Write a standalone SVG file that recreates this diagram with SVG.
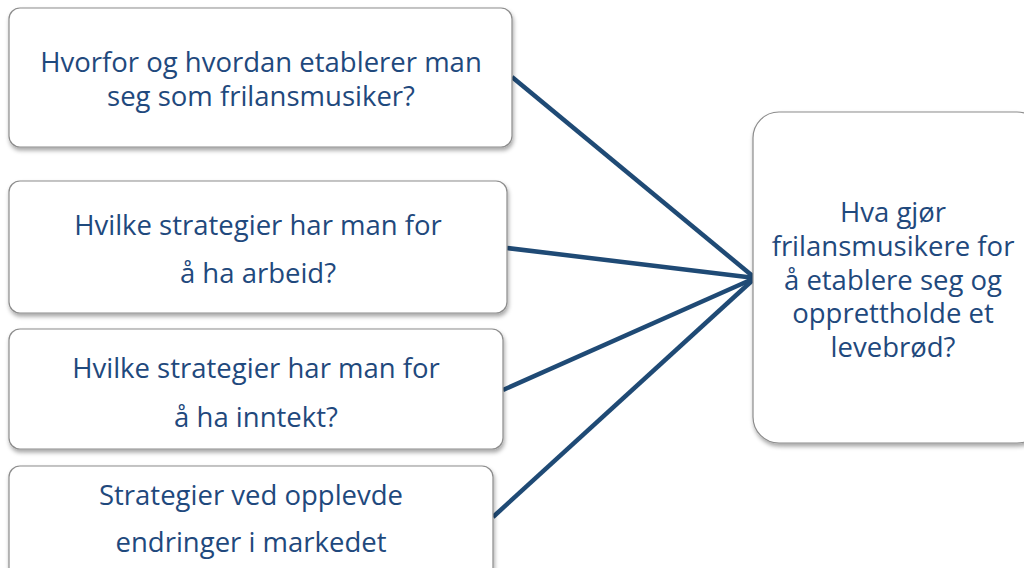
<svg xmlns="http://www.w3.org/2000/svg" width="1024" height="568" viewBox="0 0 1024 568">
<style>
.box{fill:#fff;stroke:#8c8c8c;stroke-width:1.2;filter:url(#sh)}
.t{font-family:"Open Sans","Liberation Sans",sans-serif;font-size:27.5px;fill:#1F497D;text-anchor:middle}
.c{stroke:#1F4A75;stroke-width:4.5;fill:none}
</style>
<defs>
<filter id="sh" x="-10%" y="-10%" width="120%" height="130%">
<feDropShadow dx="1" dy="3" stdDeviation="2" flood-color="#000" flood-opacity="0.35"/>
</filter>
</defs>
<g id="connectors">
<line class="c" x1="512" y1="77" x2="755" y2="278"/>
<line class="c" x1="507" y1="248" x2="755" y2="278"/>
<line class="c" x1="503" y1="390" x2="755" y2="278"/>
<line class="c" x1="493" y1="517" x2="755" y2="278"/>
</g>
<g id="n1">
<rect class="box" x="9" y="8" width="503" height="139" rx="11"/>
<text class="t" x="261" y="72">Hvorfor og hvordan etablerer man</text>
<text class="t" x="261" y="106">seg som frilansmusiker?</text>
</g>
<g id="n2">
<rect class="box" x="9" y="181" width="498" height="132" rx="11"/>
<text class="t" x="258" y="235">Hvilke strategier har man for</text>
<text class="t" x="258" y="283">å ha arbeid?</text>
</g>
<g id="n3">
<rect class="box" x="9" y="329" width="494" height="120" rx="11"/>
<text class="t" x="256" y="378">Hvilke strategier har man for</text>
<text class="t" x="256" y="427">å ha inntekt?</text>
</g>
<g id="n4">
<rect class="box" x="9" y="466" width="484" height="130" rx="11"/>
<text class="t" x="251" y="505">Strategier ved opplevde</text>
<text class="t" x="251" y="552">endringer i markedet</text>
</g>
<g id="n5">
<rect class="box" x="753" y="112" width="290" height="331" rx="26"/>
<text class="t" x="893" y="222">Hva gjør</text>
<text class="t" x="893" y="256">frilansmusikere for</text>
<text class="t" x="893" y="290">å etablere seg og</text>
<text class="t" x="893" y="323">opprettholde et</text>
<text class="t" x="893" y="357">levebrød?</text>
</g>
</svg>
